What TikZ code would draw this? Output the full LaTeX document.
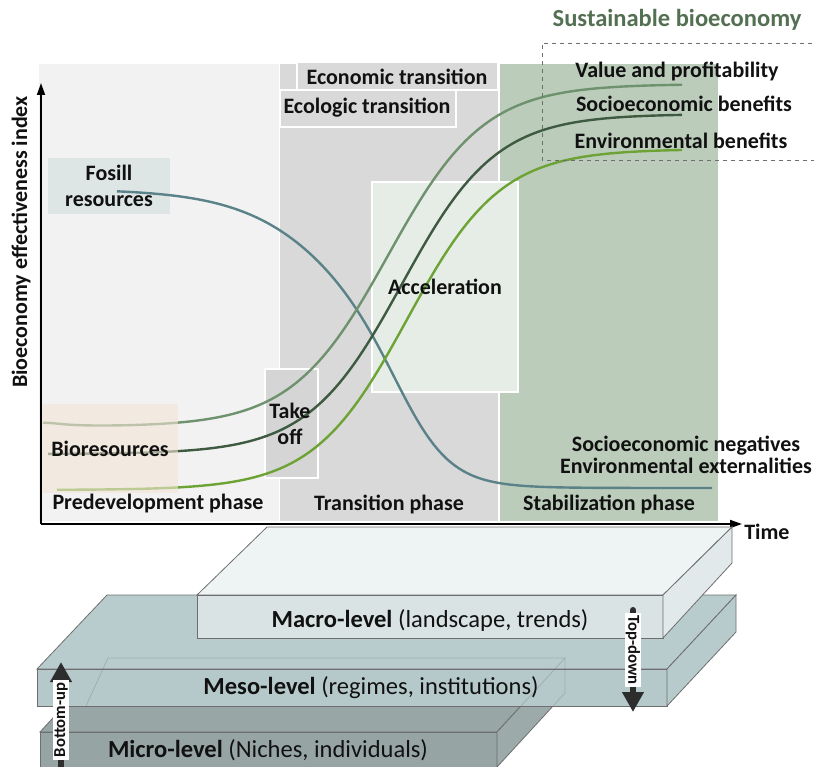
\documentclass[tikz,border=0pt]{standalone}
\usepackage{fontspec}
\setmainfont{Carlito}
\usetikzlibrary{arrows.meta}
\definecolor{prebg}{RGB}{242,242,242}
\definecolor{trbg}{RGB}{217,217,217}
\definecolor{stbg}{RGB}{187,204,187}
\definecolor{accbg}{RGB}{230,237,230}
\definecolor{tobg}{RGB}{213,213,213}
\definecolor{fosbg}{RGB}{222,229,229}
\definecolor{biobg}{RGB}{242,228,212}
\definecolor{cval}{RGB}{110,145,110}
\definecolor{csoc}{RGB}{62,90,64}
\definecolor{cenv}{RGB}{108,163,52}
\definecolor{cfos}{RGB}{90,130,136}
\definecolor{titlegreen}{RGB}{84,112,82}
\definecolor{macrotop}{RGB}{238,243,243}
\definecolor{macrofront}{RGB}{218,227,228}
\definecolor{macroside}{RGB}{226,233,234}
\definecolor{mesotop}{RGB}{185,204,205}
\definecolor{mesofront}{RGB}{182,201,202}
\definecolor{mesoside}{RGB}{184,203,204}
\definecolor{microtop}{RGB}{152,166,166}
\definecolor{microfront}{RGB}{150,164,164}
\definecolor{microside}{RGB}{156,170,170}
\definecolor{edgec}{RGB}{110,110,110}
\definecolor{arrowdark}{RGB}{45,45,45}
\definecolor{txt}{RGB}{17,17,17}
\tikzset{
  lbl/.style={font=\bfseries\fontsize{16.5}{20}\selectfont, text=txt, inner sep=0pt, align=center},
  slablbl/.style={font=\fontsize{18.4}{21}\selectfont, text=txt, inner sep=0pt},
  boxw/.style={draw=white, line width=1.3pt},
  curve/.style={line width=1.8pt, samples=140},
  slabedge/.style={draw=edgec, line width=0.6pt},
  axisline/.style={line width=1.3pt, black, -{Triangle[width=6pt,length=9pt]}},
  bigarrow/.style={line width=4.5pt, arrowdark, -{Triangle[width=15.5pt,length=15pt]}},
  arrowlbl/.style={font=\bfseries\fontsize{12.5}{14}\selectfont, fill=white, text=txt, inner xsep=2pt, inner ysep=1pt}
}
\begin{document}
\begin{tikzpicture}[x=0.75pt,y=-0.75pt]
\useasboundingbox (0,0) rectangle (814,767);
\clip (0,0) rectangle (814,767);
% ---------- phases background ----------
\fill[prebg] (39,64) rectangle (279,521);
\fill[trbg] (280,64) rectangle (498,521);
\fill[stbg] (500,64) rectangle (718,521);
\draw[boxw, fill=trbg] (297,62) rectangle (498,90);
\draw[boxw, fill=trbg] (280,90) rectangle (456,127);
\draw[boxw, fill=tobg] (265,369) rectangle (318,478);
\draw[boxw, fill=accbg] (372,182) rectangle (518,392);
\fill[fosbg] (48,158) rectangle (170,214);
% ---------- curves ----------
\draw[curve, cfos] plot[domain=117:712] (\x,{189+299/(1+exp(-(\x-374)/(30+23/(1+exp((\x-374)/36)))))});
\draw[curve, cval] plot[domain=43:682] (\x,{427-343/(1+exp(-(\x-388)/48))-4/(1+((\x-43)/25)^2)});
\draw[curve, csoc] plot[domain=48:682] (\x,{454-340/(1+exp(-(\x-402)/47))});
\draw[curve, cenv] plot[domain=57:682] (\x,{490-341/(1+exp(-(\x-407)/47))});
\fill[biobg, fill opacity=0.6] (41,404) rectangle (178,493);
% ---------- dashed box and title ----------
\draw[edgec, dashed, line width=0.7pt] (820,43) -- (542,43) -- (542,160) -- (820,160);
\node[lbl, font=\bfseries\fontsize{18.4}{21}\selectfont, text=titlegreen] (title) at (677,20) {Sustainable bioeconomy};
% ---------- labels ----------
\node[lbl] (econ) at (397,77) {Economic transition};
\node[lbl] (ecol) at (367,108) {Ecologic transition};
\node[lbl] (vp) at (677,71) {Value and profitability};
\node[lbl] (sb) at (684,104) {Socioeconomic benefits};
\node[lbl] (eb) at (681,141) {Environmental benefits};
\node[lbl] (fos) at (109,186) {Fosill\\resources};
\node[lbl] (bio) at (110,449) {Bioresources};
\node[lbl] (take) at (290,424) {Take\\off};
\node[lbl] (acc) at (445,287) {Acceleration};
\node[lbl, font=\bfseries\fontsize{16.5}{16.8}\selectfont] (neg) at (686,455) {Socioeconomic negatives\\Environmental externalities};
\node[lbl] (pre) at (158,504) {Predevelopment phase};
\node[lbl] (tra) at (389,504) {Transition phase};
\node[lbl] (sta) at (609,504) {Stabilization phase};
% ---------- axes ----------
\coordinate (orig) at (41,524);
\coordinate (ytip) at (41,83);
\coordinate (xtip) at (742,524);
\draw[axisline] (orig) -- (ytip);
\draw[axisline] (orig) -- (xtip);
\node[lbl, font=\bfseries\fontsize{16.5}{19}\selectfont, rotate=90] (ylab) at (21,242) {Bioeconomy effectiveness index};
\node[lbl, anchor=west] (time) at (744,532) {Time};
% ---------- micro slab ----------
\filldraw[fill=microtop, slabedge] (40,732) -- (108,658) -- (565,658) -- (497,732) -- cycle;
\filldraw[fill=microfront, slabedge] (40,732) rectangle (497,770);
\filldraw[fill=microside, slabedge] (497,732) -- (565,658) -- (565,693) -- (497,767) -- cycle;
% ---------- meso slab ----------
\filldraw[fill=mesotop, slabedge] (37,669) -- (107,595) -- (736,595) -- (667,669) -- cycle;
\filldraw[fill=mesofront, slabedge] (37,669) rectangle (667,706);
\filldraw[fill=mesoside, slabedge] (667,669) -- (736,595) -- (736,632) -- (667,706) -- cycle;
\draw[edgec, opacity=0.3, line width=0.6pt] (86,706) -- (108,658) -- (565,658) -- (521,706);
\draw[edgec, opacity=0.3, line width=0.6pt] (565,658) -- (565,693) -- (553,706);
% ---------- macro slab ----------
\filldraw[fill=macrotop, slabedge] (197,595) -- (267,527) -- (732,527) -- (663,595) -- cycle;
\filldraw[fill=macrofront, slabedge] (197,595) rectangle (663,638);
\filldraw[fill=macroside, slabedge] (663,595) -- (732,527) -- (732,563) -- (663,638) -- cycle;
% ---------- slab labels ----------
\node[slablbl] (macro) at (430,620) {\textbf{Macro-level} (landscape, trends)};
\node[slablbl] (meso) at (371,688) {\textbf{Meso-level} (regimes, institutions)};
\node[slablbl] (micro) at (268,750) {\textbf{Micro-level} (Niches, individuals)};
% ---------- arrows ----------
\coordinate (buS) at (61,780);
\coordinate (buE) at (61,662);
\draw[bigarrow] (buS) -- (buE);
\node[arrowlbl, rotate=90] (bu) at (61,720) {Bottom-up};
\coordinate (tdS) at (633,610);
\coordinate (tdE) at (633,712);
\draw[bigarrow, line cap=round] (tdS) -- (tdE);
\node[arrowlbl, rotate=-90] (td) at (633,650) {Top-down};
\end{tikzpicture}
\end{document}
